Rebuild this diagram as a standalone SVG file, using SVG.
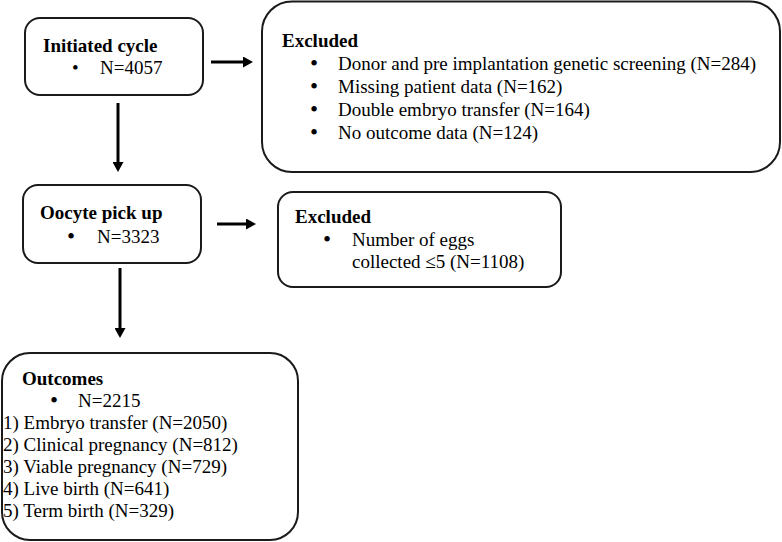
<svg xmlns="http://www.w3.org/2000/svg" width="782" height="542" viewBox="0 0 782 542">
<style>
  .box { fill: #ffffff; stroke: #1a1a1a; stroke-width: 2; }
  text { font-family: "Liberation Serif", "Times New Roman", "DejaVu Serif", serif; font-size: 19px; fill: #000000; }
  .b { font-weight: bold; }
  .bul { font-size: 23px; }
  .conn { stroke: #000000; stroke-width: 3; fill: none; marker-end: url(#ah); }
</style>
<defs>
  <marker id="ah" markerUnits="userSpaceOnUse" markerWidth="11" markerHeight="11" refX="4" refY="5.5" orient="auto">
    <path d="M0,0 L10,5.5 L0,11 Z" fill="#000000"/>
  </marker>
</defs>
<rect width="782" height="542" fill="#ffffff"/>

<g id="connectors">
  <line class="conn" x1="211" y1="62" x2="247" y2="62"/>
  <line class="conn" x1="118" y1="103" x2="118" y2="166"/>
  <line class="conn" x1="217" y1="224" x2="250" y2="224"/>
  <line class="conn" x1="120" y1="268" x2="120" y2="332"/>
</g>

<g id="initiated">
  <rect class="box" x="25" y="18" width="178" height="77" rx="15" ry="15"/>
  <text class="b" x="43" y="52">Initiated cycle</text>
  <text x="72" y="74" font-size="16">•</text>
  <text x="100" y="74">N=4057</text>
</g>

<g id="excluded1">
  <rect class="box" x="262" y="1.5" width="518" height="170.5" rx="30" ry="30"/>
  <text class="b" x="282" y="47">Excluded</text>
  <text class="bul" x="310" y="71">•</text>
  <text x="338" y="70">Donor and pre implantation genetic screening (N=284)</text>
  <text class="bul" x="310" y="94">•</text>
  <text x="338" y="93">Missing patient data (N=162)</text>
  <text class="bul" x="310" y="117">•</text>
  <text x="338" y="116">Double embryo transfer (N=164)</text>
  <text class="bul" x="310" y="140">•</text>
  <text x="338" y="139">No outcome data (N=124)</text>
</g>

<g id="oocyte">
  <rect class="box" x="23" y="185" width="178" height="78" rx="15" ry="15"/>
  <text class="b" x="40" y="219">Oocyte pick up</text>
  <text class="bul" x="67" y="244">•</text>
  <text x="97" y="243">N=3323</text>
</g>

<g id="excluded2">
  <rect class="box" x="278" y="192" width="283" height="95" rx="15" ry="15"/>
  <text class="b" x="295" y="223">Excluded</text>
  <text class="bul" x="323" y="247">•</text>
  <text x="352" y="246">Number of eggs</text>
  <text x="352" y="268">collected ≤5 (N=1108)</text>
</g>

<g id="outcomes">
  <rect class="box" x="2" y="353" width="296" height="187" rx="28" ry="28"/>
  <text class="b" x="22" y="385">Outcomes</text>
  <text class="bul" x="50" y="408">•</text>
  <text x="78" y="407">N=2215</text>
  <text x="3" y="429">1) Embryo transfer (N=2050)</text>
  <text x="3" y="451">2) Clinical pregnancy (N=812)</text>
  <text x="3" y="473">3) Viable pregnancy (N=729)</text>
  <text x="3" y="495">4) Live birth (N=641)</text>
  <text x="3" y="517">5) Term birth (N=329)</text>
</g>
</svg>
